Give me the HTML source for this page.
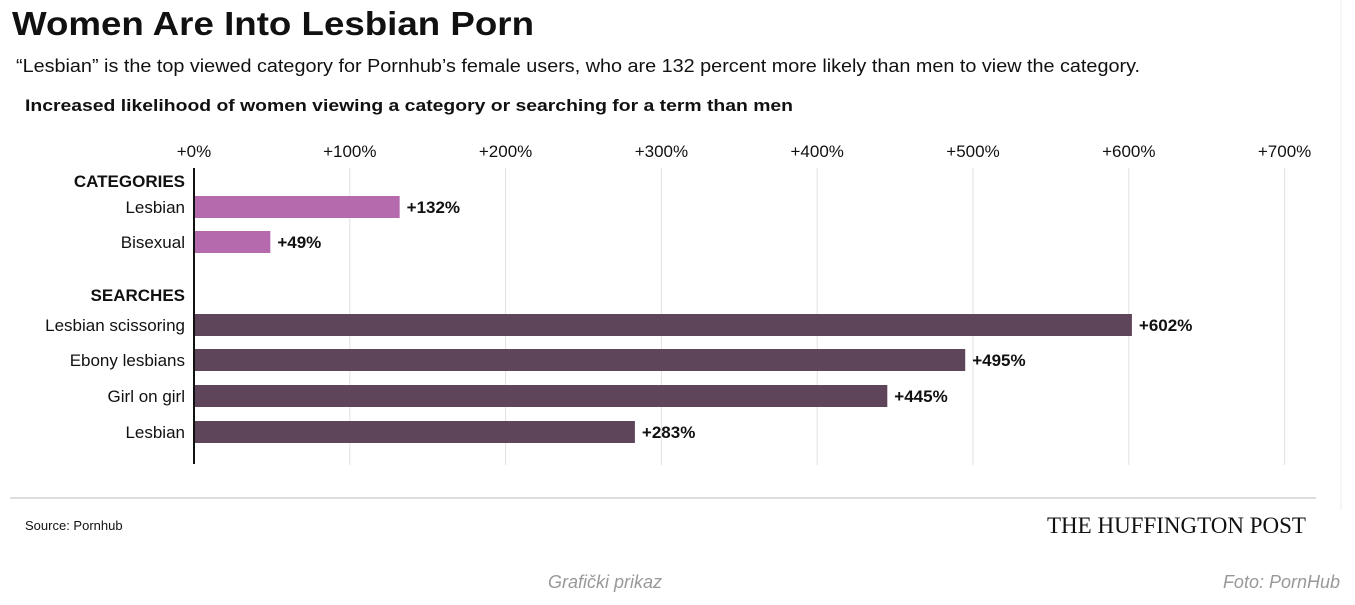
<!DOCTYPE html>
<html><head><meta charset="utf-8"><style>
body{margin:0;background:#fff;width:1355px;height:600px;overflow:hidden;font-family:"Liberation Sans",sans-serif}
</style></head><body>
<svg id="chart" width="1355" height="600" xmlns="http://www.w3.org/2000/svg" font-family="Liberation Sans, sans-serif">
<text x="12" y="35" font-size="33" font-weight="bold" fill="#111" textLength="522" lengthAdjust="spacingAndGlyphs">Women Are Into Lesbian Porn</text>
<text x="16" y="72" font-size="18" fill="#111" textLength="1124" lengthAdjust="spacingAndGlyphs">“Lesbian” is the top viewed category for Pornhub’s female users, who are 132 percent more likely than men to view the category.</text>
<text x="25" y="111" font-size="17" font-weight="bold" fill="#111" textLength="768" lengthAdjust="spacingAndGlyphs">Increased likelihood of women viewing a category or searching for a term than men</text>
<g id="grid"></g>
<g id="bars"></g>
<line x1="194" y1="168" x2="194" y2="464" stroke="#111" stroke-width="2"/>
<text x="185" y="187" font-size="17" font-weight="bold" text-anchor="end" fill="#111">CATEGORIES</text>
<text x="185" y="301" font-size="17" font-weight="bold" text-anchor="end" fill="#111">SEARCHES</text>
<line x1="10" y1="498" x2="1316" y2="498" stroke="#ddd" stroke-width="2"/>
<line x1="1341" y1="0" x2="1341" y2="510" stroke="#eee" stroke-width="1"/>
<text x="25" y="530" font-size="13" fill="#111">Source: Pornhub</text>
<text x="1306" y="533" font-size="23" font-family="Liberation Serif, serif" text-anchor="end" fill="#111">THE HUFFINGTON POST</text>
<text x="605" y="588" font-size="18" font-style="italic" text-anchor="middle" fill="#999">Grafički prikaz</text>
<text x="1340" y="588" font-size="18" font-style="italic" text-anchor="end" fill="#999">Foto: PornHub</text>
</svg>
<script>
const categories = ["Lesbian","Bisexual","Lesbian scissoring","Ebony lesbians","Girl on girl","Lesbian"];
const values = [132,49,602,495,445,283];
const groups = ["cat","cat","search","search","search","search"];
const ticks = [0,100,200,300,400,500,600,700];
const NS="http://www.w3.org/2000/svg";
const x0=194, pxPer=155.8/100;
function xs(v){return x0+v*pxPer;}
const rowY=[196,231,314,349,385,421];
const grid=document.getElementById('grid'), bars=document.getElementById('bars');
function mk(tag,attrs,parent){const e=document.createElementNS(NS,tag);for(const k in attrs)e.setAttribute(k,attrs[k]);parent.appendChild(e);return e;}
ticks.forEach((t,i)=>{
  const x=xs(t);
  if(t>0){const l=mk('line',{x1:x,y1:168,x2:x,y2:465,stroke:'#e2e2e2','stroke-width':1},grid);
  
  }
  const tx=mk('text',{x:x,y:157,'font-size':17,'text-anchor':'middle',fill:'#111'},grid);
  tx.textContent='+'+t+'%';
  
  
});
values.forEach((v,i)=>{
  const y=rowY[i];
  const col=groups[i]==='cat'?'#b56aae':'#5e4559';
  const r=mk('rect',{x:x0,y:y,width:xs(v)-x0,height:22,fill:col},bars);
  
  
  const vl=mk('text',{x:xs(v)+7,y:y+17,'font-size':17,'font-weight':'bold',fill:'#111'},bars);
  vl.textContent='+'+v+'%';
  
  
  const cl=mk('text',{x:185,y:y+17,'font-size':17,'text-anchor':'end',fill:'#111'},bars);
  cl.textContent=categories[i];
  
  
});
</script>
</body></html>
